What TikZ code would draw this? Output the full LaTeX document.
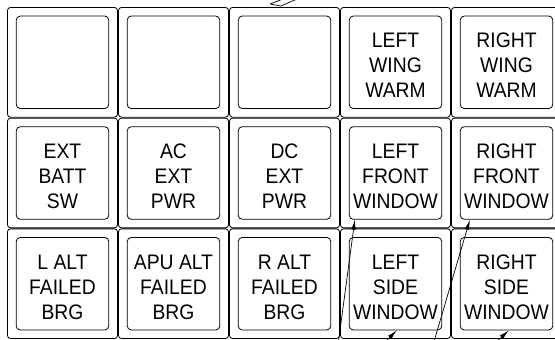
\documentclass[tikz,border=0pt]{standalone}
\usepackage{fontspec}
\newfontfamily\panelfont[FakeStretch=0.92]{Liberation Sans}
\usetikzlibrary{arrows.meta}

\newcommand\lampgap{\rule{0pt}{21pt}}

\tikzset{
  cell/.style={draw, rounded corners=3pt, minimum width=110pt, minimum height=109.7pt, inner sep=0pt, line width=0.8pt},
  lamp/.style={draw, rounded corners=4pt, minimum width=92.5pt, minimum height=92.5pt, inner sep=0pt, align=center,
    font=\panelfont\fontsize{21}{25}\selectfont, line width=0.8pt},
  leader/.style={line width=0.7pt, -{Latex[length=10pt,width=4.5pt]}}
}

\begin{document}
\begin{tikzpicture}[x=1pt,y=-1pt]
        \useasboundingbox (0,0) rectangle (555,340);
        \clip (0,0) rectangle (555,340);

        \foreach \col in {0,...,4}{
          \foreach \row in {0,1,2}{
            % Frame around each lamp
            \node[cell] (cell-\col-\row) at (62.5+111*\col, 62.3+110.7*\row) {};
          }
        }

        \node[lamp] (blankA) at (cell-0-0) {};
        \node[lamp] (blankB) at (cell-1-0) {};
        \node[lamp] (blankC) at (cell-2-0) {};
        \node[lamp] (ltwing) at (cell-3-0) {\lampgap LEFT\\WING\\WARM};
        \node[lamp] (rtwing) at (cell-4-0) {\lampgap RIGHT\\WING\\WARM};

        \node[lamp] (extbatt) at (cell-0-1) {\lampgap EXT\\BATT\\SW};
        \node[lamp] (acpwr) at (cell-1-1) {\lampgap AC\\EXT\\PWR};
        \node[lamp] (dcpwr) at (cell-2-1) {\lampgap DC\\EXT\\PWR};
        \node[lamp] (ltfront) at (cell-3-1) {\lampgap LEFT\\FRONT\\WINDOW};
        \node[lamp] (rtfront) at (cell-4-1) {\lampgap RIGHT\\FRONT\\WINDOW};

        \node[lamp] (laltbrg) at (cell-0-2) {\lampgap L ALT\\FAILED\\BRG};
        \node[lamp] (apubrg) at (cell-1-2) {\lampgap APU ALT\\FAILED\\BRG};
        \node[lamp] (raltbrg) at (cell-2-2) {\lampgap R ALT\\FAILED\\BRG};
        \node[lamp] (ltside) at (cell-3-2) {\lampgap LEFT\\SIDE\\WINDOW};
        \node[lamp] (rtside) at (cell-4-2) {\lampgap RIGHT\\SIDE\\WINDOW};

        % Leader ends below the panel
        \coordinate (ltfront-tail) at (338,345);
        \coordinate (rtfront-tail) at (433,345);
        \coordinate (ltside-tail) at (382,345);
        \coordinate (rtside-tail) at (493,345);
        \draw[leader] (ltfront-tail) -- ([xshift=6pt]ltfront.south west);
        \draw[leader] (rtfront-tail) -- ([xshift=10pt]rtfront.south west);
        \draw[leader] (ltside-tail) -- ([xshift=48pt]ltside.south west);
        \draw[leader] (rtside-tail) -- ([xshift=49pt]rtside.south west);

        % Leader cut off at the top
        \draw[line width=0.7pt] (270,4) -- (283,-1) (281,6) -- (297,-1) (270,4) -- (281,6);
\end{tikzpicture}
\end{document}
